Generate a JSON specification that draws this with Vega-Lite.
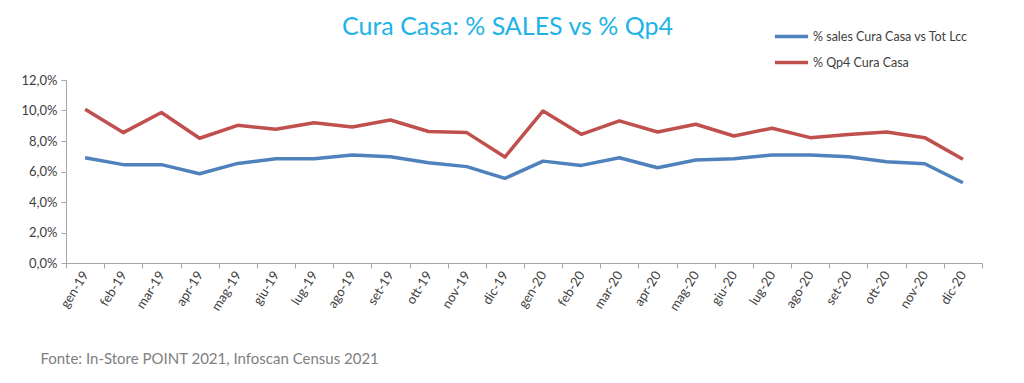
{
  "$schema": "https://vega.github.io/schema/vega-lite/v6.json",
  "width": 916,
  "height": 183,
  "autosize": {"type": "none"},
  "padding": {"left": 66, "top": 80, "right": 42, "bottom": 120},
  "background": "white",
  "config": {
    "locale": {"number": {"decimal": ",", "thousands": ".", "grouping": [3], "currency": ["€", ""]}},
    "view": {"stroke": null},
    "font": "Lato"
  },
  "title": {
    "text": "Cura Casa: % SALES vs % Qp4",
    "anchor": "start",
    "frame": "group",
    "dx": 276,
    "offset": -20,
    "dy": 2,
    "fontSize": 25,
    "fontWeight": "normal",
    "color": "#1DB3E8",
    "font": "Lato"
  },
  "data": {
    "values": [
      {"mese": "gen-19", "serie": "% sales Cura Casa vs Tot Lcc", "valore": 0.069},
      {"mese": "feb-19", "serie": "% sales Cura Casa vs Tot Lcc", "valore": 0.0645},
      {"mese": "mar-19", "serie": "% sales Cura Casa vs Tot Lcc", "valore": 0.0645},
      {"mese": "apr-19", "serie": "% sales Cura Casa vs Tot Lcc", "valore": 0.0585},
      {"mese": "mag-19", "serie": "% sales Cura Casa vs Tot Lcc", "valore": 0.0653},
      {"mese": "giu-19", "serie": "% sales Cura Casa vs Tot Lcc", "valore": 0.0684},
      {"mese": "lug-19", "serie": "% sales Cura Casa vs Tot Lcc", "valore": 0.0684},
      {"mese": "ago-19", "serie": "% sales Cura Casa vs Tot Lcc", "valore": 0.0708},
      {"mese": "set-19", "serie": "% sales Cura Casa vs Tot Lcc", "valore": 0.0697},
      {"mese": "ott-19", "serie": "% sales Cura Casa vs Tot Lcc", "valore": 0.0658},
      {"mese": "nov-19", "serie": "% sales Cura Casa vs Tot Lcc", "valore": 0.0632},
      {"mese": "dic-19", "serie": "% sales Cura Casa vs Tot Lcc", "valore": 0.0555},
      {"mese": "gen-20", "serie": "% sales Cura Casa vs Tot Lcc", "valore": 0.0668},
      {"mese": "feb-20", "serie": "% sales Cura Casa vs Tot Lcc", "valore": 0.064},
      {"mese": "mar-20", "serie": "% sales Cura Casa vs Tot Lcc", "valore": 0.069},
      {"mese": "apr-20", "serie": "% sales Cura Casa vs Tot Lcc", "valore": 0.0625},
      {"mese": "mag-20", "serie": "% sales Cura Casa vs Tot Lcc", "valore": 0.0675},
      {"mese": "giu-20", "serie": "% sales Cura Casa vs Tot Lcc", "valore": 0.0684},
      {"mese": "lug-20", "serie": "% sales Cura Casa vs Tot Lcc", "valore": 0.0708},
      {"mese": "ago-20", "serie": "% sales Cura Casa vs Tot Lcc", "valore": 0.0708},
      {"mese": "set-20", "serie": "% sales Cura Casa vs Tot Lcc", "valore": 0.0697},
      {"mese": "ott-20", "serie": "% sales Cura Casa vs Tot Lcc", "valore": 0.0664},
      {"mese": "nov-20", "serie": "% sales Cura Casa vs Tot Lcc", "valore": 0.0651},
      {"mese": "dic-20", "serie": "% sales Cura Casa vs Tot Lcc", "valore": 0.0526},
      {"mese": "gen-19", "serie": "% Qp4 Cura Casa", "valore": 0.1008},
      {"mese": "feb-19", "serie": "% Qp4 Cura Casa", "valore": 0.0855},
      {"mese": "mar-19", "serie": "% Qp4 Cura Casa", "valore": 0.0987},
      {"mese": "apr-19", "serie": "% Qp4 Cura Casa", "valore": 0.0818},
      {"mese": "mag-19", "serie": "% Qp4 Cura Casa", "valore": 0.0903},
      {"mese": "giu-19", "serie": "% Qp4 Cura Casa", "valore": 0.0877},
      {"mese": "lug-19", "serie": "% Qp4 Cura Casa", "valore": 0.092},
      {"mese": "ago-19", "serie": "% Qp4 Cura Casa", "valore": 0.0892},
      {"mese": "set-19", "serie": "% Qp4 Cura Casa", "valore": 0.0938},
      {"mese": "ott-19", "serie": "% Qp4 Cura Casa", "valore": 0.0862},
      {"mese": "nov-19", "serie": "% Qp4 Cura Casa", "valore": 0.0855},
      {"mese": "dic-19", "serie": "% Qp4 Cura Casa", "valore": 0.0695},
      {"mese": "gen-20", "serie": "% Qp4 Cura Casa", "valore": 0.0997},
      {"mese": "feb-20", "serie": "% Qp4 Cura Casa", "valore": 0.0844},
      {"mese": "mar-20", "serie": "% Qp4 Cura Casa", "valore": 0.0932},
      {"mese": "apr-20", "serie": "% Qp4 Cura Casa", "valore": 0.0859},
      {"mese": "mag-20", "serie": "% Qp4 Cura Casa", "valore": 0.091},
      {"mese": "giu-20", "serie": "% Qp4 Cura Casa", "valore": 0.0833},
      {"mese": "lug-20", "serie": "% Qp4 Cura Casa", "valore": 0.0884},
      {"mese": "ago-20", "serie": "% Qp4 Cura Casa", "valore": 0.0822},
      {"mese": "set-20", "serie": "% Qp4 Cura Casa", "valore": 0.0842},
      {"mese": "ott-20", "serie": "% Qp4 Cura Casa", "valore": 0.0859},
      {"mese": "nov-20", "serie": "% Qp4 Cura Casa", "valore": 0.0822},
      {"mese": "dic-20", "serie": "% Qp4 Cura Casa", "valore": 0.068}
    ]
  },
  "mark": {"type": "line", "strokeWidth": 3.5, "strokeJoin": "round"},
  "encoding": {
    "x": {
      "field": "mese",
      "type": "ordinal",
      "sort": null,
      "scale": {"type": "band", "paddingInner": 0, "paddingOuter": 0},
      "axis": {
        "title": "Fonte: In-Store POINT 2021, Infoscan Census 2021",
        "titleX": -26,
        "titleY": 95,
        "titleAnchor": "start",
        "titleAlign": "left",
        "titleBaseline": "middle",
        "titleFont": "Lato",
        "titleFontSize": 15,
        "titleFontWeight": "normal",
        "titleColor": "#808080",
        "tickBand": "extent",
        "labelAngle": -58,
        "labelAlign": "right",
        "labelBaseline": "middle",
        "labelFontSize": 13,
        "labelColor": "#404040",
        "labelPadding": 4,
        "domainColor": "#A6A6A6",
        "tickColor": "#A6A6A6",
        "tickSize": 5,
        "grid": false
      }
    },
    "y": {
      "field": "valore",
      "type": "quantitative",
      "scale": {"domain": [0, 0.12]},
      "axis": {
        "title": null,
        "format": ".1%",
        "values": [0, 0.02, 0.04, 0.06, 0.08, 0.1, 0.12],
        "labelFontSize": 13,
        "labelColor": "#404040",
        "labelPadding": 4,
        "domainColor": "#A6A6A6",
        "tickColor": "#A6A6A6",
        "tickSize": 5,
        "grid": false
      }
    },
    "color": {
      "field": "serie",
      "type": "nominal",
      "sort": ["% sales Cura Casa vs Tot Lcc", "% Qp4 Cura Casa"],
      "scale": {"domain": ["% sales Cura Casa vs Tot Lcc", "% Qp4 Cura Casa"], "range": ["#4F81BD", "#C0504D"]},
      "legend": {
        "title": null,
        "orient": "none",
        "legendX": 707,
        "legendY": -62,
        "symbolType": "stroke",
        "symbolStrokeWidth": 3.5,
        "symbolSize": 1100,
        "labelFontSize": 12.5,
        "labelLimit": 300,
        "labelColor": "#404040",
        "rowPadding": -6,
        "labelOffset": 3
      }
    }
  }
}
